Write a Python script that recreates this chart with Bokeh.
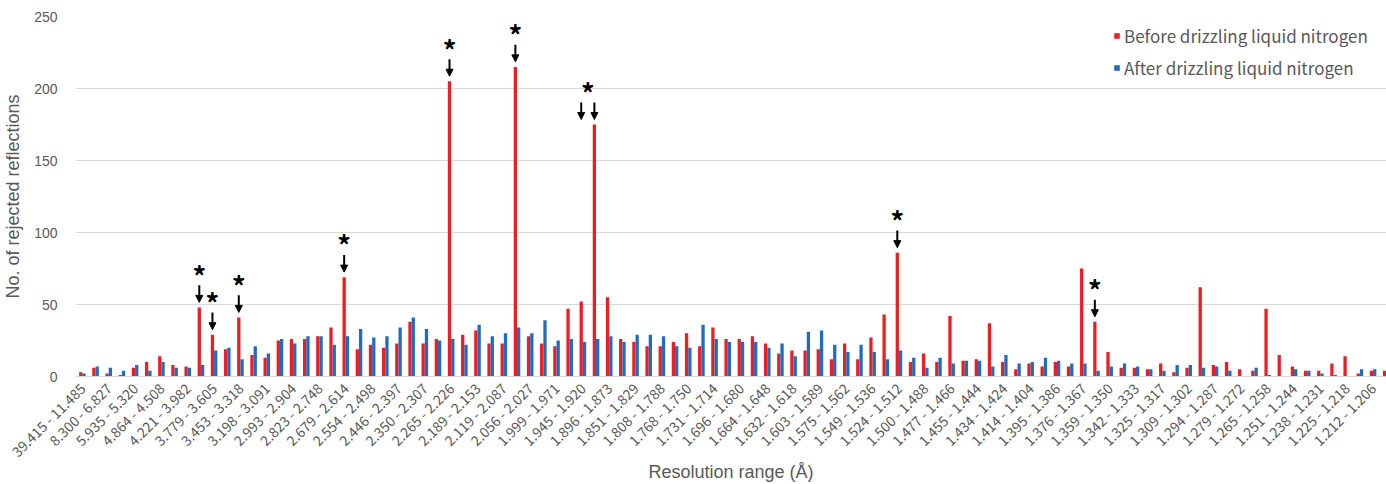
import math
from bokeh.plotting import figure
from bokeh.models import (ColumnDataSource, Range1d, FixedTicker, Legend, LegendItem,
                          Arrow, NormalHead)
from bokeh.core.properties import value
from bokeh.embed import file_html
from bokeh.resources import INLINE

# ---------------- data ----------------
tick_labels = [
    "39.415 - 11.485", "8.300 - 6.827", "5.935 - 5.320", "4.864 - 4.508", "4.221 - 3.982",
    "3.779 - 3.605", "3.453 - 3.318", "3.198 - 3.091", "2.993 - 2.904", "2.823 - 2.748",
    "2.679 - 2.614", "2.554 - 2.498", "2.446 - 2.397", "2.350 - 2.307", "2.265 - 2.226",
    "2.189 - 2.153", "2.119 - 2.087", "2.056 - 2.027", "1.999 - 1.971", "1.945 - 1.920",
    "1.896 - 1.873", "1.851 - 1.829", "1.808 - 1.788", "1.768 - 1.750", "1.731 - 1.714",
    "1.696 - 1.680", "1.664 - 1.648", "1.632 - 1.618", "1.603 - 1.589", "1.575 - 1.562",
    "1.549 - 1.536", "1.524 - 1.512", "1.500 - 1.488", "1.477 - 1.466", "1.455 - 1.444",
    "1.434 - 1.424", "1.414 - 1.404", "1.395 - 1.386", "1.376 - 1.367", "1.359 - 1.350",
    "1.342 - 1.333", "1.325 - 1.317", "1.309 - 1.302", "1.294 - 1.287", "1.279 - 1.272",
    "1.265 - 1.258", "1.251 - 1.244", "1.238 - 1.231", "1.225 - 1.218", "1.212 - 1.206",
]

# 100 bins; the last bin is cut at the right edge of the chart (only its red bar shows)
before = [
    3, 6, 2, 1, 6, 10, 14, 8, 7, 48,
    29, 19, 41, 15, 13, 25, 26, 26, 28, 34,
    69, 19, 22, 20, 23, 38, 23, 26, 205, 29,
    32, 23, 23, 215, 28, 23, 21, 47, 52, 175,
    55, 26, 24, 21, 21, 24, 30, 21, 34, 26,
    26, 28, 23, 16, 18, 18, 19, 12, 23, 12,
    27, 43, 86, 10, 16, 10, 42, 11, 12, 37,
    10, 5, 9, 7, 10, 7, 75, 38, 17, 6,
    6, 5, 9, 3, 6, 62, 8, 10, 5, 4,
    47, 15, 7, 4, 4, 9, 14, 2, 4, 4,
]

after = [
    2, 7, 6, 4, 8, 4, 10, 6, 6, 8,
    18, 20, 12, 21, 16, 26, 23, 28, 28, 22,
    28, 33, 27, 28, 34, 41, 33, 25, 26, 22,
    36, 28, 30, 34, 30, 39, 25, 26, 24, 26,
    28, 24, 29, 29, 28, 21, 20, 36, 26, 24,
    24, 24, 20, 23, 14, 31, 32, 22, 17, 22,
    17, 12, 18, 13, 6, 13, 9, 11, 11, 7,
    15, 9, 10, 13, 11, 9, 9, 4, 7, 9,
    7, 5, 4, 8, 8, 6, 7, 4, 0, 6,
    1, 0, 5, 4, 2, 1, 0, 5, 5,
]

# groups of categories (1-based) marked with an asterisk and arrows
marked_groups = [[10], [11], [13], [21], [29], [34], [39, 40], [63], [78]]

series_names = ["Before drizzling liquid nitrogen", "After drizzling liquid nitrogen"]

# ---------------- styling ----------------
RED = "#EE1D23"
BLUE = "#1E6DC0"
GREY_TXT = "#595959"
GRID = "#D9D9D9"
BAR_W = 0.25
FRAME_H = 358.0
PX = 250.0 / FRAME_H  # data units per screen pixel

src_b = ColumnDataSource(dict(x=[i - BAR_W / 2 for i in range(len(before))], v=before))
src_a = ColumnDataSource(dict(x=[i + BAR_W / 2 for i in range(len(after))], v=after))

p = figure(width=1386, height=484, output_backend="svg", toolbar_location=None,
           x_range=Range1d(-0.524, 99.02), y_range=Range1d(0, 250),
           min_border_left=75, min_border_right=0, min_border_top=16, min_border_bottom=0)
p.outline_line_color = None
p.background_fill_color = "white"

r_red = p.vbar(x="x", top="v", width=BAR_W, source=src_b, fill_color=RED, line_color=None)
r_blue = p.vbar(x="x", top="v", width=BAR_W, source=src_a, fill_color=BLUE, line_color=None)

# axes
p.xgrid.visible = False
p.ygrid.grid_line_color = GRID
p.ygrid.grid_line_width = 1

yax = p.yaxis[0]
yax.ticker = FixedTicker(ticks=[0, 50, 100, 150, 200, 250])
yax.axis_line_color = None
yax.major_tick_line_color = None
yax.minor_tick_line_color = None
yax.major_label_text_font = "Liberation Sans"
yax.major_label_text_font_size = "14px"
yax.major_label_text_color = GREY_TXT
yax.major_label_standoff = 12
yax.axis_label = "No. of rejected reflections"
yax.axis_label_text_font = "Liberation Sans"
yax.axis_label_text_font_size = "18px"
yax.axis_label_text_font_style = "normal"
yax.axis_label_text_color = GREY_TXT
yax.axis_label_standoff = 8

xax = p.xaxis[0]
tick_pos = [2 * i for i in range(len(tick_labels))]
xax.ticker = FixedTicker(ticks=tick_pos)
xax.major_label_overrides = {t: lab for t, lab in zip(tick_pos, tick_labels)}
xax.major_label_orientation = math.pi / 4
xax.axis_line_color = GRID
xax.major_tick_line_color = None
xax.minor_tick_line_color = None
xax.major_label_text_font = "Noto Sans CJK JP"
xax.major_label_text_font_size = "14px"
xax.major_label_text_color = GREY_TXT
xax.major_label_standoff = 3
xax.axis_label = "Resolution range (Å)"
xax.axis_label_text_font = "Liberation Sans"
xax.axis_label_text_font_size = "18px"
xax.axis_label_text_font_style = "normal"
xax.axis_label_text_color = GREY_TXT
xax.axis_label_standoff = -9

# asterisks and arrows
ax_x, ay0, ay1 = [], [], []
sx, sy = [], []
for grp in marked_groups:
    top = max(before[c - 1] for c in grp)
    for c in grp:
        ax_x.append(c - 1 - BAR_W / 2)
        ay0.append(top + 22 * PX)
        ay1.append(top + 5 * PX)
    sx.append(sum(c - 1 - BAR_W / 2 for c in grp) / len(grp))
    sy.append(top + 36 * PX)

arrow_src = ColumnDataSource(dict(x=ax_x, y0=ay0, y1=ay1))
p.add_layout(Arrow(end=NormalHead(size=7, fill_color="black", line_color="black", line_width=1),
                   x_start="x", y_start="y0", x_end="x", y_end="y1",
                   source=arrow_src, line_color="black", line_width=2))

star_src = ColumnDataSource(dict(x=sx, y=sy, t=["*"] * len(sx)))
p.text(x="x", y="y", text="t", source=star_src, text_align="center", text_baseline="middle",
       text_font=value("Noto Sans CJK JP"), text_font_size="27px", text_font_style="bold",
       text_color="black", y_offset=4)

legend = Legend(items=[LegendItem(label=series_names[0], renderers=[r_red]),
                       LegendItem(label=series_names[1], renderers=[r_blue])],
                location=(1038, 296), orientation="vertical",
                glyph_width=7, glyph_height=7, label_standoff=4,
                label_text_font="Noto Sans CJK JP", label_text_font_size="17px",
                label_text_color=GREY_TXT, label_height=20, spacing=7,
                padding=10, margin=0, border_line_color=None, background_fill_alpha=0)
p.add_layout(legend)

open("out.html", "w").write(file_html(p, INLINE))
